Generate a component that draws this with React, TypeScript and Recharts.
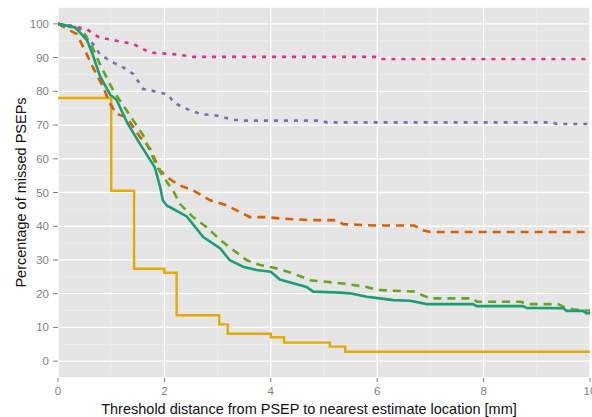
import React from 'react';
import { LineChart, Line, XAxis, YAxis, CartesianGrid, ReferenceLine } from 'recharts';

// [threshold mm, % missed]
const pinkPts: number[][] = [
  [0, 100], [0.26, 99.4], [0.54, 98.4], [0.77, 96], [1.1, 95], [1.42, 94], [1.54, 93], [1.73, 91.5],
  [2.17, 91], [2.42, 90.5], [2.54, 90.2], [6.0, 90.2], [6.05, 89.6], [10, 89.6],
];
const purplePts: number[][] = [
  [0, 100], [0.41, 98.4], [0.66, 94], [0.79, 91], [0.98, 89], [1.23, 87], [1.42, 85.1], [1.6, 80.7],
  [1.92, 79.7], [2.08, 78.9], [2.17, 76.7], [2.42, 74.8], [2.67, 73.3], [2.98, 72.8], [3.23, 71.8],
  [3.42, 71.3], [4.95, 71.3], [5.05, 70.8], [9.3, 70.8], [9.37, 70.3], [10, 70.3],
];
const orangePts: number[][] = [
  [0, 100], [0.35, 97], [0.48, 93], [0.66, 87], [0.85, 81.2], [0.98, 76.3], [1.1, 73.3], [1.29, 72.3],
  [1.54, 66.5], [1.73, 63], [1.92, 56.5], [2.1, 54], [2.29, 52.1], [2.54, 50.6], [2.86, 47.7],
  [3.17, 46.2], [3.42, 44.2], [3.61, 42.7], [3.92, 42.7], [4.17, 42.3], [4.74, 41.8], [5.24, 41.8],
  [5.36, 40.6], [5.99, 40.2], [6.7, 40.2], [6.86, 38.8], [7.0, 38.3], [10, 38.3],
];
const greenPts: number[][] = [
  [0, 100], [0.3, 99], [0.5, 97], [0.65, 93], [0.79, 88], [1.04, 80.2], [1.29, 74.3], [1.6, 67],
  [1.85, 58], [1.98, 54.6], [2.16, 50.6], [2.3, 46.5], [2.54, 42.7], [2.79, 39.8], [3.05, 35.9],
  [3.3, 32.9], [3.55, 29.9], [3.8, 28.5], [4.11, 27.5], [4.42, 26], [4.74, 24], [5.36, 23], [5.8, 22],
  [6.0, 21.1], [6.7, 20.6], [6.99, 18.6], [7.8, 18.6], [7.87, 17.6], [8.7, 17.6], [8.81, 16.9],
  [9.4, 16.9], [9.5, 16.1], [9.68, 15.4], [9.9, 15], [10, 15],
];
const tealPts: number[][] = [
  [0, 100], [0.32, 99], [0.41, 97.5], [0.55, 95], [0.65, 91], [0.79, 84.5], [0.98, 79], [1.1, 77.5],
  [1.3, 70.7], [1.54, 64.4], [1.82, 57.5], [1.92, 51.6], [1.97, 47.7], [2.05, 46], [2.1, 45.7],
  [2.42, 42.9], [2.73, 36.8], [3.05, 33.4], [3.23, 29.9], [3.48, 28], [3.73, 27], [4.0, 26.5],
  [4.17, 24.2], [4.42, 23.1], [4.67, 22], [4.8, 20.6], [5.3, 20.3], [5.49, 20.1], [5.8, 19.1],
  [6.05, 18.6], [6.3, 18.1], [6.62, 17.9], [6.93, 16.9], [7.8, 16.9], [7.87, 16.3], [8.74, 16.3],
  [8.81, 15.8], [9.5, 15.7], [9.56, 14.9], [9.87, 14.9], [9.93, 14.2], [10, 14.2],
];
const goldPts: number[][] = [
  [0, 78], [1.0, 50.5], [1.43, 27.4], [2.0, 26.2], [2.23, 13.6], [3.03, 10.9], [3.19, 8.1],
  [4.0, 7.1], [4.25, 5.5], [5.11, 4.3], [5.4, 2.8], [10, 2.8],
];

const xTicks = [0, 2, 4, 6, 8, 10];
const yTicks = [0, 10, 20, 30, 40, 50, 60, 70, 80, 90, 100];
const xMinor = [1, 3, 5, 7, 9];
const yMinor = [5, 15, 25, 35, 45, 55, 65, 75, 85, 95];

const toRows = (pts: number[][]) => pts.map(([x, y]) => ({ x, y }));

const FONT = '"Liberation Sans", Arial, Helvetica, sans-serif';

const XTitle = (props: any) => {
  const vb = props.viewBox || {};
  return (
    <text
      x={vb.x + vb.width / 2 - 15}
      y={vb.y + 36}
      textAnchor="middle"
      fontFamily={FONT}
      fontSize={14.5}
      fill="#111"
    >
      Threshold distance from PSEP to nearest estimate location [mm]
    </text>
  );
};

const YTitle = (props: any) => {
  const vb = props.viewBox || {};
  const cx = 21;
  const cy = vb.y + vb.height / 2;
  return (
    <text
      x={cx}
      y={cy}
      transform={`rotate(-90 ${cx} ${cy})`}
      textAnchor="middle"
      dominantBaseline="central"
      fontFamily={FONT}
      fontSize={14.5}
      fill="#111"
    >
      Percentage of missed PSEPs
    </text>
  );
};

export default function App() {
  const tickStyle = { fill: '#7f7f7f', fontSize: 11.5, fontFamily: FONT };
  return (
    <div style={{ position: 'absolute', left: 0, top: 0, width: 592, height: 417, background: '#fff' }}>
      <LineChart width={592} height={417} margin={{ top: 7, right: 2, bottom: 0, left: 0 }}>
        <CartesianGrid fill="#E5E5E5" fillOpacity={1} stroke="#ffffff" strokeWidth={1.3} />
        {xMinor.map((v) => (
          <ReferenceLine key={'xm' + v} x={v} stroke="#F2F2F2" strokeWidth={0.6} ifOverflow="hidden" />
        ))}
        {yMinor.map((v) => (
          <ReferenceLine key={'ym' + v} y={v} stroke="#F2F2F2" strokeWidth={0.6} ifOverflow="hidden" />
        ))}
        <XAxis
          dataKey="x"
          type="number"
          domain={[0, 10]}
          ticks={xTicks}
          allowDataOverflow
          axisLine={false}
          tickLine={{ stroke: '#7f7f7f' }}
          tickSize={4}
          tickMargin={5}
          tick={tickStyle}
          height={39}
          interval={0}
          label={<XTitle />}
        />
        <YAxis
          type="number"
          domain={[-5, 105]}
          ticks={yTicks}
          allowDataOverflow
          axisLine={false}
          tickLine={{ stroke: '#7f7f7f' }}
          tickSize={5}
          tickMargin={4}
          tick={tickStyle}
          width={58}
          interval={0}
          label={<YTitle />}
        />
        <Line data={toRows(goldPts)} dataKey="y" type="stepAfter" stroke="#E6AB02" strokeWidth={2.4} dot={false} isAnimationActive={false} />
        <Line data={toRows(pinkPts)} dataKey="y" type="linear" stroke="#E7298A" strokeWidth={2.6} strokeDasharray="4 6" dot={false} isAnimationActive={false} />
        <Line data={toRows(purplePts)} dataKey="y" type="linear" stroke="#7570B3" strokeWidth={2.6} strokeDasharray="4 6" dot={false} isAnimationActive={false} />
        <Line data={toRows(orangePts)} dataKey="y" type="linear" stroke="#D95F02" strokeWidth={2.6} strokeDasharray="8 6" dot={false} isAnimationActive={false} />
        <Line data={toRows(greenPts)} dataKey="y" type="linear" stroke="#66A61E" strokeWidth={2.6} strokeDasharray="8 6" dot={false} isAnimationActive={false} />
        <Line data={toRows(tealPts)} dataKey="y" type="linear" stroke="#1B9E77" strokeWidth={2.6} dot={false} isAnimationActive={false} />
      </LineChart>
    </div>
  );
}
